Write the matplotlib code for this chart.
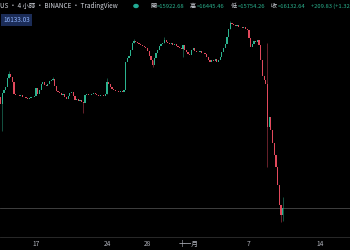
import matplotlib
matplotlib.use("Agg")
import matplotlib.pyplot as plt
import matplotlib.dates as mdates
import pandas as pd

# BTC 4h candles, 2022-10-13 12:00 -> 2022-11-10 08:00
first_open = 19240
closes = [
    19044, 19352, 19436, 19520, 19772, 19884, 19800, 19660, 19324, 19296,
    19296, 19268, 19296, 19240, 19240, 19212, 19184, 19212, 19240, 19240,
    19268, 19492, 19324, 19436, 19604, 19660, 19576, 19548, 19604, 19688,
    19716, 19744, 19548, 19408, 19380, 19352, 19296, 19324, 19240, 19184,
    19268, 19352, 19380, 19268, 19156, 19184, 19128, 19156, 19100, 19072,
    19296, 19324, 19296, 19296, 19324, 19352, 19324, 19296, 19268, 19296,
    19296, 19268, 19324, 19660, 19604, 19520, 19464, 19436, 19408, 19408,
    19380, 19408, 19380, 19436, 20220, 20332, 20388, 20556, 20752, 20808,
    20780, 20752, 20724, 20696, 20668, 20640, 20612, 20528, 20388, 20276,
    20136, 20332, 20472, 20556, 20668, 20724, 20752, 20836, 20780, 20752,
    20724, 20752, 20696, 20724, 20668, 20640, 20612, 20584, 20696, 20556,
    20500, 20444, 20416, 20556, 20612, 20528, 20500, 20500, 20528, 20472,
    20472, 20444, 20360, 20276, 20220, 20276, 20248, 20304, 20220, 20276,
    20360, 20500, 20612, 20724, 20920, 21144, 21312, 21284, 21256, 21228,
    21256, 21200, 21200, 21172, 21200, 21144, 21116, 20892, 20640, 20724,
    20808, 20780, 20836, 20696, 20276, 19828, 19716, 19604, 18400, 18680,
    18316, 17952, 17616, 17280, 16776, 16216, 15922.68, 16132.64,
]
# candles with visible wicks: index -> price
highs = {5: 19968, 31: 19800, 63: 19772, 79: 20864, 97: 20920, 136: 21368,
         158: 20752, 167: 16445.46}
lows = {1: 18288, 49: 18792, 90: 20080, 108: 20360, 158: 17280,
        166: 15740, 167: 15754.26}

last_price = 16132.64
tick_dates = ["2022-10-17", "2022-10-24", "2022-10-28", "2022-11-01",
              "2022-11-07", "2022-11-14"]
tick_labels = ["17", "24", "28", "十一月", "7", "14"]

up_color = "#2bb38f"
down_color = "#e2495c"
bg = "#000000"
txt = "#d1d4dc"
cjk = ["Noto Sans CJK TC", "DejaVu Sans"]

times = pd.date_range("2022-10-13 12:00", periods=len(closes), freq="4h")
x = mdates.date2num(times)
opens = [first_open] + closes[:-1]

fig = plt.figure(figsize=(3.5, 2.5), dpi=100, facecolor=bg)
ax = fig.add_axes([0, 13 / 250, 1, 237 / 250])
ax.set_facecolor(bg)

for i in range(len(closes)):
    o, c = opens[i], closes[i]
    col = up_color if c >= o else down_color
    lo, hi = min(o, c), max(o, c)
    h = highs.get(i, hi)
    l = lows.get(i, lo)
    if h > hi or l < lo:
        ax.vlines(x[i], l, h, color=col, linewidth=0.4, alpha=0.8, zorder=2)
    ax.bar(x[i], max(hi - lo, 12), bottom=lo, width=0.12,
           color=col, linewidth=0, zorder=3)

ax.axhline(last_price, color="#4a4a4a", linewidth=0.6, zorder=1)

ax.set_xlim(mdates.date2num(pd.Timestamp("2022-10-13 10:40")),
            mdates.date2num(pd.Timestamp("2022-11-16 23:20")))
ax.set_ylim(15320, 21956)
ax.set_xticks(mdates.date2num(pd.to_datetime(tick_dates)))
ax.set_xticklabels(tick_labels, family=cjk, fontsize=4.8, color="#b2b5be")
ax.tick_params(axis="x", length=0, pad=2)
ax.set_yticks([])
for s in ["top", "left", "right"]:
    ax.spines[s].set_visible(False)
ax.spines["bottom"].set_color("#2f2f2f")
ax.spines["bottom"].set_linewidth(0.6)

# header line
ty = 1 - 6 / 250
fig.text(0.0, ty, "US · 4 小時 · BINANCE · TradingView",
         family=cjk, fontsize=4.6, color=txt, va="center", ha="left")
fig.patches.append(plt.Circle((136 / 350, ty), 0.006,
                              transform=fig.transFigure, color="#22ab94"))
ohlc = [("開", "=15922.68", 150), ("高", "=16445.46", 190),
        ("低", "=15754.26", 231), ("收", "=16132.64", 271)]
for lab, val, px in ohlc:
    fig.text(px / 350, ty, lab, family=cjk, fontsize=4.4,
             color=txt, va="center", ha="left")
    fig.text((px + 6.5) / 350, ty, val, family=cjk, fontsize=4.2,
             color=up_color, va="center", ha="left")
fig.text(311 / 350, ty, "+209.83 (+1.32%)", family=cjk,
         fontsize=4.2, color=up_color, va="center", ha="left")

fig.text(3 / 350, 1 - 20 / 250, "16133.03", family=cjk, fontsize=4.6,
         color="#8fb4ff", va="center", ha="left",
         bbox=dict(boxstyle="square,pad=0.35", facecolor="#1b2c57",
                   edgecolor="none"))

fig.savefig("out.png", dpi=100, facecolor=bg)
